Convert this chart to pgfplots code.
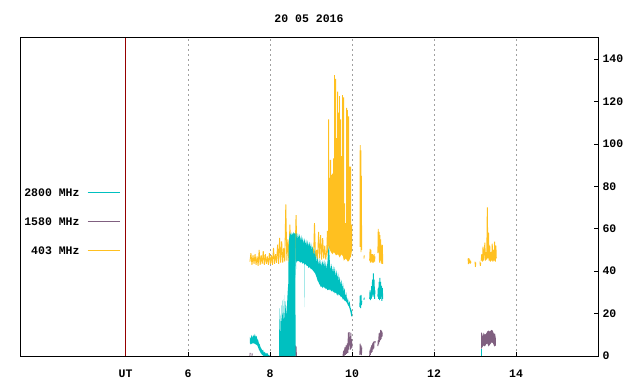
\documentclass[border=0pt]{standalone}
\usepackage{fontspec}
\setmainfont{Liberation Mono}
\usepackage{pgfplots}
\pgfplotsset{compat=1.18}
\definecolor{cTeal}{RGB}{0,192,192}
\definecolor{cPurp}{RGB}{128,96,128}
\definecolor{cOrng}{RGB}{255,192,32}
\definecolor{cUT}{RGB}{150,0,0}
\definecolor{cGrid}{RGB}{160,160,160}
\newcommand{\gpfont}{\fontsize{11.5bp}{13bp}\selectfont\bfseries}
\begin{document}
\begin{tikzpicture}[font=\gpfont]
\begin{axis}[
  scale only axis, width=578bp, height=318bp,
  xmin=1.902, xmax=16, ymin=0, ymax=150,
  axis line style={black, line width=1bp},
  xtick={6,8,10,12,14}, xtick pos=bottom,
  ytick={0,20,...,140}, ytick pos=right, yticklabel pos=right,
  tick align=inside, major tick length=4bp,
  tick style={black, line width=0.9bp},
  xmajorgrids, grid style={cGrid, dash pattern=on 2bp off 3bp, line width=0.9bp},
  extra x ticks={4.476}, extra x tick labels={UT},
  extra x tick style={xmajorgrids=false, major tick length=0pt},
  ticklabel style={font=\gpfont},
  /pgf/number format/assume math mode=true,
  xticklabel style={yshift=-10bp},
  yticklabel style={xshift=1bp},
  title={20 05 2016}, title style={at={(0.5,1)}, anchor=center, yshift=13bp, font=\gpfont},
  legend plot pos=right, legend cell align=right,
  legend style={draw=none, fill=none, at={(0.1739,0.527)}, anchor=north east,
    row sep=21bp, inner sep=0pt, font=\gpfont,
    nodes={inner sep=0pt, text height=8bp, text depth=0pt}},
  legend image code/.code={\path (0bp,0bp); \draw[#1, line width=1.2bp] (8bp,0bp) -- (40bp,0bp);},
  zig/.style={line width=0.9bp, line join=bevel, forget plot},
  blk/.style={draw=none, forget plot},
]
\addlegendimage{cTeal}\addlegendentry{2800 MHz}
\addlegendimage{cPurp}\addlegendentry{1580 MHz}
\addlegendimage{cOrng}\addlegendentry{403 MHz}

% UT line
\addplot[cUT, line width=1bp, forget plot] coordinates {(4.476,0) (4.476,150)};

% ---------- 403 MHz ----------
\addplot[zig, cOrng] coordinates {
(7.510,44.5)(7.535,48.5)(7.560,43)(7.585,47.5)(7.610,43.5)(7.635,48)(7.660,43)(7.685,47)
(7.710,42.5)(7.735,50)(7.760,43)(7.785,47.5)(7.810,43.5)(7.835,49.5)(7.860,43)(7.885,48)
(7.910,43.5)(7.935,47)(7.960,43)(7.985,48.5)(8.010,43.5)(8.035,47.5)(8.060,43)(8.085,51)
(8.110,43.5)(8.135,48)(8.160,44)(8.185,52.5)(8.210,43.5)(8.235,55.7)(8.260,44)(8.285,54)
(8.310,44)(8.335,51)(8.360,44.5)(8.385,71.5)(8.410,45)(8.435,55)(8.460,44.5)(8.485,62)
(8.510,45)(8.535,50)(8.560,45)(8.585,49)(8.610,45)(8.635,66.5)(8.660,45.5)(8.685,52)
(8.710,45)(8.735,50)(8.760,45.5)(8.785,49)(8.810,45)(8.835,50)(8.860,45.5)(8.885,49.5)
(8.910,45)(8.935,50)(8.960,45.5)(8.985,49)(9.010,45)(9.035,51)(9.060,45.5)(9.085,62.7)
(9.110,46)(9.135,50)(9.160,45.5)(9.185,58.6)(9.210,46)(9.235,57)(9.260,45.5)(9.285,55.6)
(9.310,46)(9.335,52)(9.360,45.5)(9.385,50)(9.400,59)(9.415,47)};
\addplot[blk, fill=cOrng] coordinates {
(9.415,111.6)(9.439,111.6)(9.439,84)(9.463,84)(9.463,92.5)(9.488,92.5)(9.488,85.4)(9.512,85.4)
(9.512,86)(9.537,86)(9.537,93.2)(9.561,93.2)(9.561,132.5)(9.585,132.5)(9.585,130.7)(9.610,130.7)
(9.610,102.8)(9.634,102.8)(9.634,124.7)(9.659,124.7)(9.659,114.8)(9.683,114.8)(9.683,122.6)(9.707,122.6)
(9.707,111.6)(9.732,111.6)(9.732,94.3)(9.756,94.3)(9.756,123)(9.780,123)(9.780,122)(9.805,122)
(9.805,72)(9.829,72)(9.829,62.7)(9.854,62.7)(9.854,117)(9.878,117)(9.878,116)(9.902,116)
(9.902,113)(9.927,113)(9.927,89.3)(9.976,89.3)(9.976,62)(10.0,62)
(10.0,50)(9.976,47)(9.95,46)(9.93,45)(9.90,44.5)(9.85,46)(9.80,45)(9.78,47)(9.74,48)(9.70,46.5)
(9.66,48)(9.61,47.5)(9.56,49)(9.52,48)(9.49,49)(9.46,50)(9.44,51)(9.415,52)};
\addplot[zig, cOrng] coordinates {(10.195,51.5)(10.200,99.5)(10.207,52)(10.215,97)(10.22,49)(10.228,85)(10.235,50)};
\addplot[zig, cOrng] coordinates {(10.29,46)(10.30,47.5)};
\addplot[zig, cOrng] coordinates {(10.43,45)(10.44,50.5)(10.45,44)(10.46,50)(10.47,44.5)(10.48,48)(10.49,44)(10.50,48)(10.51,44)(10.52,47.5)(10.53,44)(10.54,48)(10.55,44.5)(10.56,47)};
\addplot[zig, cOrng] coordinates {(10.63,48.5)(10.64,60)(10.65,49)(10.66,58.5)(10.67,44)(10.68,57)(10.69,45)(10.70,55)(10.71,44)(10.72,52)(10.73,43.5)(10.74,52.4)(10.75,43.4)};
\addplot[zig, cOrng] coordinates {(12.83,46)(12.84,43.4)(12.85,46.2)(12.86,44)(12.87,45.5)(12.88,43.5)(12.89,45)(12.90,44)};
\addplot[zig, cOrng] coordinates {(13.00,44.5)(13.01,42)(13.02,44)};
\addplot[zig, cOrng] coordinates {(13.12,44.5)(13.13,42.5)(13.14,44)};
\addplot[zig, cOrng] coordinates {(13.15,45)(13.165,48)(13.18,44.5)(13.195,51.6)(13.21,45)(13.225,48.5)(13.24,53.5)(13.255,45)(13.27,49)(13.285,45.5)(13.30,70.1)(13.315,46)(13.33,58.2)(13.345,45)(13.36,52)(13.375,44.5)(13.39,49)(13.405,45)(13.42,53)(13.435,44.5)(13.45,50)(13.465,45)(13.48,54)(13.495,44.5)(13.51,52)(13.52,46)};

% ---------- 1580 MHz ----------
\addplot[zig, cPurp] coordinates {(7.51,0)(7.515,1.5)};
\addplot[zig, cPurp] coordinates {(7.56,0)(7.565,1.2)};
\addplot[zig, cPurp] coordinates {(8.61,0)(8.615,5)(8.625,0.5)(8.635,4.5)(8.645,0)};
\addplot[zig, cPurp] coordinates {(9.78,0)(9.795,2.5)(9.81,0)(9.825,4)(9.84,0.5)(9.855,5)(9.87,1)(9.885,6)(9.90,1.5)(9.91,11)(9.92,3)(9.93,11.3)(9.94,5)(9.95,9)(9.96,3)(9.97,11)(9.98,3.5)(9.99,8)(10.0,4)};
\addplot[zig, cPurp] coordinates {(10.19,0.5)(10.20,5.8)(10.21,1)(10.22,5)(10.23,0.4)(10.24,4)};
\addplot[zig, cPurp] coordinates {(10.43,0)(10.44,3)(10.45,0.5)(10.46,4)(10.47,1.5)(10.48,5)(10.49,2)(10.50,6)(10.51,3)(10.52,6.5)(10.53,3.5)(10.54,7)};
\addplot[zig, cPurp] coordinates {(10.56,6)(10.565,7)};
\addplot[zig, cPurp] coordinates {(10.63,4.7)(10.64,7.5)(10.65,5.5)(10.66,10.7)(10.67,6.5)(10.68,11)(10.69,7.5)(10.70,12.3)(10.71,8)(10.72,12)(10.73,9)(10.74,11)};
\addplot[blk, fill=cPurp] coordinates {
(13.15,11)(13.17,11)(13.19,9)(13.21,11)(13.24,10)(13.27,10.5)(13.30,11.5)(13.33,12)(13.36,11.5)(13.40,12.3)(13.43,12)(13.46,10.5)(13.49,10.5)(13.51,8)
(13.51,5)(13.47,4.5)(13.44,6)(13.41,6.5)(13.37,5.5)(13.33,4.5)(13.30,6)(13.27,5.5)(13.24,4.5)(13.21,5)(13.19,4.5)(13.15,3.3)};

% ---------- 2800 MHz ----------
\addplot[blk, fill=cTeal] coordinates {
(7.51,9)(7.53,8)(7.55,10)(7.57,8.5)(7.59,10)(7.61,9)(7.63,10.5)(7.65,9)(7.67,9.5)(7.69,8)(7.71,7.5)(7.73,6)(7.75,5.5)(7.77,4)(7.79,3.5)(7.81,2.5)(7.83,3)(7.85,1.5)(7.87,2)(7.90,1)(7.93,1.5)(7.96,0.5)(7.99,0.3)
(7.99,0)(7.90,0)(7.85,0)(7.81,0.5)(7.77,1.5)(7.73,3)(7.69,5)(7.65,5.5)(7.61,6)(7.57,6)(7.53,5.5)(7.51,6)};
\addplot[blk, fill=cTeal] coordinates {
(8.22,0)(8.225,22.6)(8.24,10)(8.255,20)(8.265,8)(8.28,24)(8.29,12)(8.305,26.4)(8.315,14)(8.33,21)(8.345,28.8)(8.355,16)(8.37,22)(8.385,26)(8.40,18)(8.415,24)(8.43,30)(8.445,34)(8.455,51.6)(8.47,56)(8.485,58)(8.50,57)(8.515,58.5)(8.53,56.5)(8.545,58)(8.56,57)(8.575,58.5)(8.59,57.5)(8.605,58)(8.615,58)(8.625,0)};
\addplot[blk, fill=cTeal] coordinates {
(8.62,57.5)(8.64,58)(8.66,55)(8.68,58)(8.70,55.5)(8.72,57.5)(8.74,54.5)(8.76,57)(8.78,54)(8.80,56)(8.82,53)(8.84,55.5)(8.86,52.5)(8.88,55)(8.90,52)(8.92,54.5)(8.94,51.5)(8.96,54)(8.98,51)(9.00,53.5)(9.02,50)(9.04,52)(9.06,47)(9.08,51)(9.10,46)(9.12,49)(9.14,44)(9.16,46.5)(9.18,43)(9.20,46)(9.22,42.5)(9.24,45.5)(9.26,42)(9.28,45)(9.30,42.5)(9.32,45.5)(9.34,41.5)(9.36,44.5)(9.38,41)(9.40,44)(9.42,50)(9.44,52)(9.46,44)(9.48,40.5)(9.50,43.5)(9.52,39.5)(9.54,42.5)(9.56,39)(9.58,42)(9.60,37.5)(9.62,40.5)(9.64,36.5)(9.66,39.5)(9.68,35)(9.70,37.5)(9.72,33.5)(9.74,36)(9.76,32)(9.78,34.5)(9.80,30.5)(9.82,32)(9.84,28)(9.86,30)(9.88,26)(9.90,27.5)(9.92,24.5)(9.94,26)(9.96,23)(9.98,22)(10.0,21)
(10.0,18.5)(9.98,19)(9.96,21)(9.94,22.5)(9.92,23.5)(9.90,24)(9.88,25)(9.86,25.5)(9.84,26)(9.82,26)(9.80,27)(9.78,26.5)(9.76,27.5)(9.74,28)(9.72,28)(9.70,29)(9.68,28.5)(9.66,29.5)(9.64,28.5)(9.62,29.5)(9.60,30)(9.58,29.5)(9.56,30.5)(9.54,30)(9.52,31)(9.50,30.5)(9.48,31)(9.46,31.5)(9.44,31)(9.42,31.5)(9.40,31)(9.38,32)(9.36,31.5)(9.34,32.5)(9.32,32)(9.30,33)(9.28,32)(9.26,33)(9.24,32.5)(9.22,33.5)(9.20,34)(9.18,35)(9.16,35.5)(9.14,37)(9.12,38)(9.10,39)(9.08,39.5)(9.06,40)(9.04,40.5)(9.02,41)(9.00,41)(8.98,41.5)(8.96,42)(8.94,41.5)(8.92,42.5)(8.90,42.5)(8.88,43)(8.86,43.5)(8.845,43)(8.84,23)(8.835,43.5)(8.82,44)(8.80,43.5)(8.78,44)(8.76,44.5)(8.74,44)(8.72,44.5)(8.70,45)(8.68,44.5)(8.66,45)(8.64,44)(8.625,37)(8.62,45)};
\addplot[zig, cTeal] coordinates {(10.19,23)(10.20,28.5)(10.21,22.6)(10.22,28.8)(10.23,24)(10.24,26)};
\addplot[zig, cTeal] coordinates {(10.29,26.5)(10.30,27.5)};
\addplot[zig, cTeal] coordinates {(10.43,27)(10.44,31)(10.45,26.4)(10.46,30)(10.47,27)(10.48,33)(10.49,28)(10.50,36)(10.51,29)(10.52,39)(10.53,28)(10.54,36)(10.55,27)(10.56,31)};
\addplot[zig, cTeal] coordinates {(10.63,28)(10.64,32)(10.65,27)(10.66,35)(10.67,26.4)(10.68,36.8)(10.69,27)(10.70,35)(10.71,28)(10.72,33)(10.73,26)(10.74,32)(10.75,27)};
\addplot[zig, cTeal] coordinates {(13.15,0)(13.15,3.5)};

\coordinate (ll) at (rel axis cs:0,0);
\end{axis}
\pgfresetboundingbox
\path[use as bounding box] (ll) ++(-20bp,-28bp) rectangle ++(640bp,384bp);
\end{tikzpicture}
\end{document}
